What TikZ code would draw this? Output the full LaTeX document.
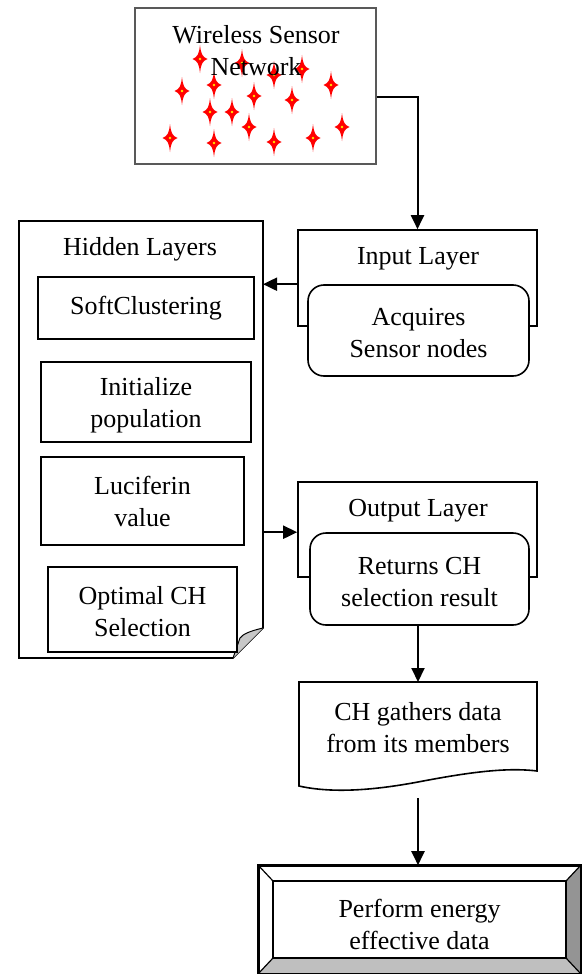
\documentclass[tikz,border=0pt]{standalone}
\usepackage{fontspec}
\setmainfont{Liberation Serif}
\usetikzlibrary{arrows.meta}
\begin{document}
\begin{tikzpicture}[x=1pt,y=-1pt,
  every node/.style={font=\fontsize{26}{32}\selectfont, align=center, inner sep=0pt},
  box/.style={draw, line width=1.6pt, fill=white},
  rbox/.style={draw, line width=1.6pt, fill=white, rounded corners=16pt},
  arr/.style={line width=2pt, -{Triangle[length=14pt,width=13pt]}},
  sstar/.pic={
    \fill[red] (0,-14) .. controls (1,-5) and (2.2,-2.2) .. (7.5,0) .. controls (2.2,2.2) and (1,5) .. (0,14)
      .. controls (-1,5) and (-2.2,2.2) .. (-7.5,0) .. controls (-2.2,-2.2) and (-1,-5) .. cycle;
    \fill[yellow!90!orange] (0,0) circle (1.4);
  }
]
\useasboundingbox (0,0) rectangle (581,974);

% Wireless sensor network
\node[draw=black!65, line width=1.2pt, fill=white, minimum width=241pt, minimum height=156pt] (wsn) at (255.5,86) {};
\foreach \p in {(200,59),(242,63),(274,75),(302,69),(331,85),(182,91),(214,85),(254,96),(292,100),(210,112),(232,112),(249,127),(342,127),(170,138),(214,143),(274,142),(313,138)}
  \pic at \p {sstar};
\node (wsnt) at (256,51) {Wireless Sensor\\Network};

% Hidden layers (folded corner)
\coordinate (hidNW) at (19,221);
\coordinate (hidNE) at (263,221);
\coordinate (hidE) at (263,0);
\draw[line width=1.6pt, fill=white] (hidNW) -- (hidNE) -- (263,628) -- (233,658) -- (19,658) -- cycle;
\fill[black!22] (233,658) -- (263,628) .. controls (250,631) and (243,634) .. (240,638) -- cycle;
\draw[line width=1pt] (233,658) -- (240,638) .. controls (243,634) and (250,631) .. (263,628);
\node (hidt) at (140,249) {Hidden Layers};
\node[box, minimum width=216pt, minimum height=62pt] (soft) at (146,308) {SoftClustering};
\node[box, minimum width=210pt, minimum height=80pt] (init) at (146,402) {};
\node (initt) at (146,405.5) {Initialize\\population};
\node[box, minimum width=203pt, minimum height=88pt] (luci) at (142.5,501) {Luciferin\\value};
\node[box, minimum width=189pt, minimum height=85pt] (opt) at (142.5,609.5) {};
\node (optt) at (142.5,612) {Optimal CH\\Selection};

% Input layer
\node[box, minimum width=239pt, minimum height=96pt] (inlayer) at (417.5,278) {};
\node (int) at (418,259) {Input Layer};
\node[rbox, minimum width=221pt, minimum height=91pt] (acq) at (418.5,330.5) {};
\node (acqt) at (418.5,333) {Acquires\\Sensor nodes};

% Output layer
\node[box, minimum width=239pt, minimum height=95pt] (outlayer) at (417.5,529.5) {};
\node (outt) at (418,511) {Output Layer};
\node[rbox, minimum width=219pt, minimum height=92pt] (ret) at (419.5,579) {};
\node (rett) at (419.5,582) {Returns CH\\selection result};

% Document shape
\coordinate (docN) at (418,682);
\coordinate (docB) at (418,798);
\draw[line width=1.6pt, fill=white] (299,682) -- (537,682) -- (537,771)
  .. controls (505,767) and (465,773) .. (418,782)
  .. controls (370,791) and (330,793) .. (299,786) -- cycle;
\node (doct) at (418,727.5) {CH gathers data\\from its members};

% Bevel box
\node[draw, line width=1.6pt, fill=white, minimum width=321pt, minimum height=107pt] (perf) at (419.5,919.5) {};
\fill[black!42] (580,866) -- (566,881) -- (566,958) -- (580,973) -- cycle;
\fill[black!25] (259,973) -- (273,958) -- (566,958) -- (580,973) -- cycle;
\draw[line width=1.6pt] (perf.north west) rectangle (perf.south east);
\draw[line width=1.6pt] (273,881) rectangle (566,958);
\draw[line width=1.2pt] (perf.north west) -- (273,881) (perf.north east) -- (566,881)
  (perf.south west) -- (273,958) (perf.south east) -- (566,958);
\node (perft) at (419.5,924) {Perform energy\\effective data};

% Connectors
\draw[arr] ([yshift=-11pt]wsn.east) -| (inlayer.north);
\draw[arr] (inlayer.west |- acq.north) -- (hidE |- acq.north);
\draw[arr] (hidE |- ret.north) -- (outlayer.west |- ret.north);
\draw[arr] (ret.south -| docN) -- (docN);
\draw[arr] (docB) -- (docB |- perf.north);
\end{tikzpicture}
\end{document}
